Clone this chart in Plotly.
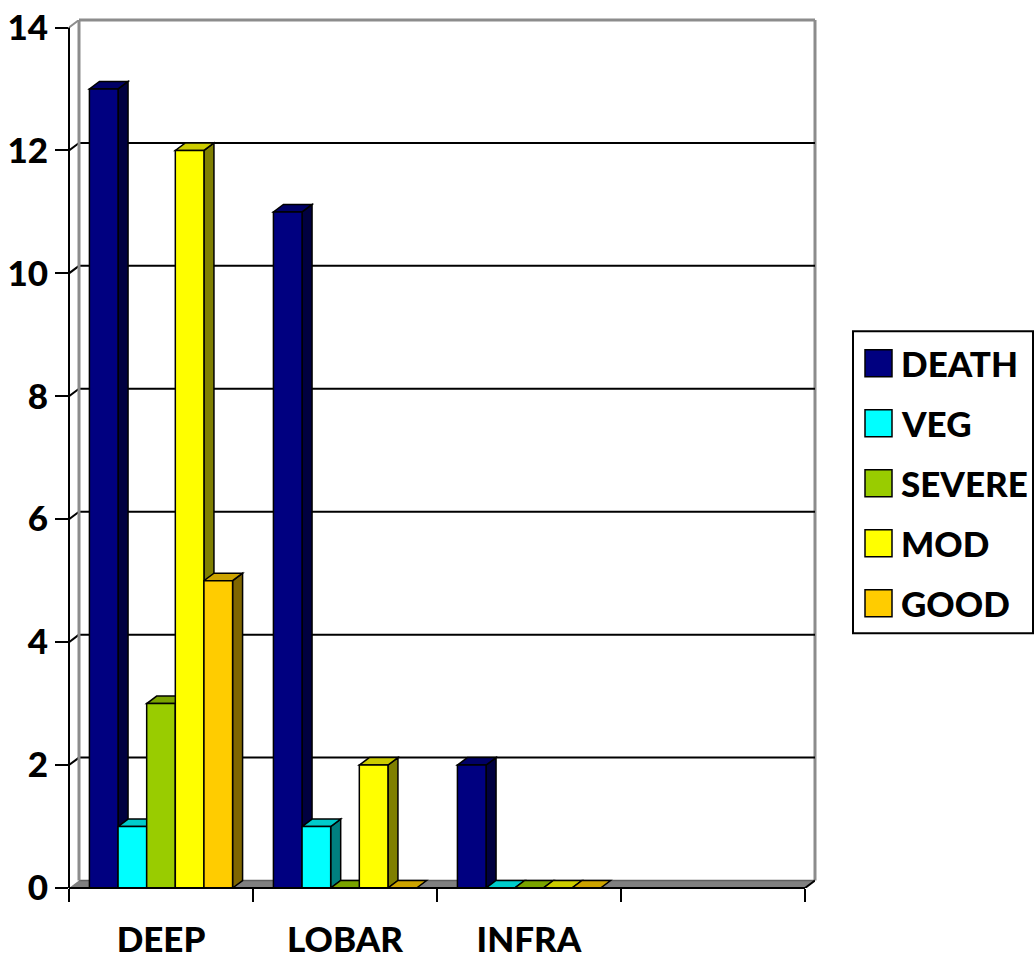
import plotly.graph_objects as go

# ---- data -------------------------------------------------------------
categories = ["DEEP", "LOBAR", "INFRA"]
series_names = ["DEATH", "VEG", "SEVERE", "MOD", "GOOD"]
death = [13, 11, 2]
veg = [1, 1, 0]
severe = [3, 0, 0]
moderate = [12, 2, 0]
good = [5, 0, 0]
series_values = [death, veg, severe, moderate, good]
front_colors = ["#000080", "#00FFFF", "#99CC00", "#FFFF00", "#FFCC00"]
y_ticks = [0, 2, 4, 6, 8, 10, 12, 14]
n_slots = 4  # category slots along the floor (last one left empty)

# ---- geometry of the pseudo-3D box (pixels) ---------------------------
FIG_W, FIG_H = 1034, 959
FRONT_LEFT, FRONT_RIGHT = 69, 805
FRONT_TOP, FRONT_BOTTOM = 27, 888
DEPTH_X, DEPTH_Y = 10, 7.5
Y_MAX = y_ticks[-1]
BARGAP = 0.222

slot_px = (FRONT_RIGHT - FRONT_LEFT) / n_slots
unit_px = (FRONT_BOTTOM - FRONT_TOP) / Y_MAX
dxu = DEPTH_X / slot_px          # depth offset in x data units
dyu = DEPTH_Y / unit_px          # depth offset in y data units
x_lo, x_hi = -0.5, n_slots - 0.5
x_range = [x_lo, x_hi + dxu]
y_range = [0, Y_MAX + dyu]

plot_l = FRONT_LEFT
plot_r = FIG_W - FRONT_RIGHT - DEPTH_X
plot_b = FIG_H - FRONT_BOTTOM
plot_t = FRONT_TOP - DEPTH_Y
plot_w = FIG_W - plot_l - plot_r
plot_h = FIG_H - plot_t - plot_b

FONT = dict(family="Lato, Carlito, 'Open Sans', sans-serif", size=35,
            color="black", weight=900)
WALL_GREY = "#8c8c8c"


def shade(hex_color, f):
    r, g, b = (int(hex_color[i:i + 2], 16) for i in (1, 3, 5))
    return "#{:02x}{:02x}{:02x}".format(int(r * f), int(g * f), int(b * f))


def px_x(px):
    return (px - plot_l) / plot_w


def px_y(py):
    return (FIG_H - plot_b - py) / plot_h


def poly(points):
    return "M " + " L ".join(f"{x:.5f},{y:.5f}" for x, y in points) + " Z"


fig = go.Figure()
x_pos = list(range(len(categories)))
for name, vals, col in zip(series_names, series_values, front_colors):
    fig.add_trace(go.Bar(
        x=x_pos, y=vals, name=name, showlegend=False,
        marker=dict(color=col, line=dict(color="black", width=1.5)),
    ))

shapes = []
# floor
shapes.append(dict(type="path", xref="x", yref="y", layer="below",
                   path=poly([(x_lo, 0), (x_hi, 0), (x_hi + dxu, dyu), (x_lo + dxu, dyu)]),
                   fillcolor="#808080", line=dict(width=0)))
shapes.append(dict(type="line", xref="x", yref="y", layer="below",
                   x0=x_lo + dxu, x1=x_hi + dxu, y0=dyu, y1=dyu,
                   line=dict(color="#5f5f5f", width=1.5)))
# back-wall gridlines and their short runs along the side wall
for v in y_ticks[1:-1]:
    shapes.append(dict(type="line", xref="x", yref="y", layer="below",
                       x0=x_lo + dxu, x1=x_hi + dxu, y0=v + dyu, y1=v + dyu,
                       line=dict(color="black", width=2)))
    shapes.append(dict(type="line", xref="x", yref="y", layer="below",
                       x0=x_lo, x1=x_lo + dxu, y0=v, y1=v + dyu,
                       line=dict(color="black", width=2)))
# back-wall frame
shapes.append(dict(type="line", xref="x", yref="y", layer="below",
                   x0=x_lo + dxu, x1=x_lo + dxu, y0=dyu, y1=Y_MAX + dyu,
                   line=dict(color=WALL_GREY, width=3)))
shapes.append(dict(type="line", xref="x", yref="paper", layer="below",
                   x0=x_lo + dxu, x1=x_hi + dxu, y0=1, y1=1,
                   line=dict(color=WALL_GREY, width=3)))
shapes.append(dict(type="line", xref="paper", yref="y", layer="below",
                   x0=1, x1=1, y0=dyu, y1=Y_MAX + dyu,
                   line=dict(color=WALL_GREY, width=3)))
shapes.append(dict(type="line", xref="x", yref="y", layer="below",
                   x0=x_lo, x1=x_lo + dxu, y0=Y_MAX, y1=Y_MAX + dyu,
                   line=dict(color=WALL_GREY, width=2)))

# side and top faces of every bar, painted left to right
group_w = 1 - BARGAP
bar_w = group_w / len(series_names)
for ci, xc in enumerate(x_pos):
    for si, (vals, col) in enumerate(zip(series_values, front_colors)):
        v = vals[ci]
        left = xc - group_w / 2 + si * bar_w
        right = left + bar_w
        if v > 0:
            shapes.append(dict(type="path", xref="x", yref="y", layer="below",
                               path=poly([(right, 0), (right, v), (right + dxu, v + dyu), (right + dxu, dyu)]),
                               fillcolor=shade(col, 0.5), line=dict(color="black", width=1.5)))
        shapes.append(dict(type="path", xref="x", yref="y", layer="below",
                           path=poly([(left, v), (right, v), (right + dxu, v + dyu), (left + dxu, v + dyu)]),
                           fillcolor=shade(col, 0.8), line=dict(color="black", width=1.5)))

# front axis lines
shapes.append(dict(type="line", xref="paper", yref="y", layer="above",
                   x0=0, x1=0, y0=0, y1=Y_MAX, line=dict(color="black", width=2)))
shapes.append(dict(type="line", xref="x", yref="paper", layer="above",
                   x0=x_lo, x1=x_hi, y0=0, y1=0, line=dict(color="black", width=2)))
shapes.append(dict(type="line", xref="x", yref="y", layer="above",
                   x0=x_hi, x1=x_hi + dxu, y0=0, y1=dyu, line=dict(color="black", width=2)))

# legend
LEG_L, LEG_R, LEG_T, LEG_B = 853, 1033, 331, 633
LEG_ROW0, LEG_STEP, SW = 363, 60, 27
SW_L = 865
annotations = []
shapes.append(dict(type="rect", xref="paper", yref="paper", layer="above",
                   x0=px_x(LEG_L), x1=px_x(LEG_R), y0=px_y(LEG_B), y1=px_y(LEG_T),
                   fillcolor="white", line=dict(color="black", width=2)))
for i, (name, col) in enumerate(zip(series_names, front_colors)):
    cy = LEG_ROW0 + i * LEG_STEP
    shapes.append(dict(type="rect", xref="paper", yref="paper", layer="above",
                       x0=px_x(SW_L), x1=px_x(SW_L + SW),
                       y0=px_y(cy + SW / 2), y1=px_y(cy - SW / 2),
                       fillcolor=col, line=dict(color="black", width=1.5)))
    annotations.append(dict(xref="paper", yref="paper", x=px_x(SW_L + SW + 7), y=px_y(cy),
                            xanchor="left", yanchor="middle", text=name,
                            showarrow=False, font=FONT))

fig.update_layout(
    width=FIG_W, height=FIG_H,
    margin=dict(l=plot_l, r=plot_r, t=plot_t, b=plot_b, pad=0, autoexpand=False),
    paper_bgcolor="white", plot_bgcolor="white",
    barmode="group", bargap=BARGAP, bargroupgap=0,
    shapes=shapes, annotations=annotations, showlegend=False,
    xaxis=dict(range=x_range, tickmode="array", tickvals=x_pos, ticktext=categories,
               ticks="", showgrid=False, zeroline=False, showline=False, automargin=False,
               tickfont=FONT, ticklabelstandoff=28,
               minor=dict(tickmode="array", tickvals=[x_lo + k for k in range(n_slots + 1)],
                          ticks="outside", ticklen=13, tickwidth=2, tickcolor="black",
                          showgrid=False)),
    yaxis=dict(range=y_range, tickmode="array", tickvals=y_ticks, automargin=False,
               ticks="outside", ticklen=13, tickwidth=2, tickcolor="black",
               showgrid=False, zeroline=False, showline=False, tickfont=FONT),
)

fig.write_html("out.html")
